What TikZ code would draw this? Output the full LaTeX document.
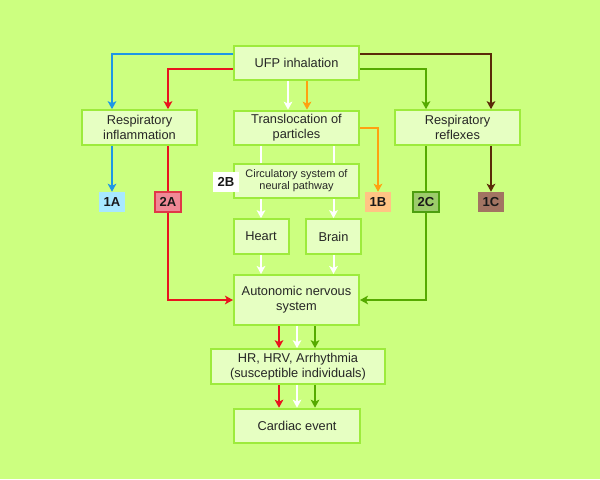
\documentclass[tikz,border=0pt]{standalone}
\usepackage{fontspec}
\setmainfont{Liberation Sans}
\usetikzlibrary{arrows.meta}
\definecolor{bggreen}{HTML}{CCFF80}
\definecolor{boxfill}{HTML}{E6FFC2}
\definecolor{boxline}{HTML}{9DEB3C}
\definecolor{ablue}{HTML}{1E96E6}
\definecolor{ared}{HTML}{E8141E}
\definecolor{aorange}{HTML}{FFA010}
\definecolor{agreen}{HTML}{55AA00}
\definecolor{abrown}{HTML}{5A2A08}
\definecolor{fillA}{HTML}{A8E8FF}
\definecolor{fillAA}{HTML}{F08896}
\definecolor{lineAA}{HTML}{E03848}
\definecolor{fillB}{HTML}{FFC484}
\definecolor{fillCC}{HTML}{9CCC6A}
\definecolor{lineCC}{HTML}{4C9E10}
\definecolor{fillC}{HTML}{A27462}
\begin{document}
\begin{tikzpicture}[x=0.75pt,y=-0.75pt,>={Stealth[length=6pt,width=6.5pt,inset=1.5pt]}]
        \tikzstyle{box}=[rectangle,draw=boxline,line width=1.5pt,fill=boxfill,minimum width=93.75pt,minimum height=26pt,inner sep=1pt,align=center,text=black!85,font=\fontsize{9.6pt}{11pt}\selectfont]
        \tikzstyle{tag}=[rectangle,minimum width=19.5pt,minimum height=15pt,inner sep=0pt,text=black!90,font=\fontsize{9.8pt}{10pt}\selectfont\bfseries]
        \tikzstyle{conn}=[line width=1.5pt]
       \fill[bggreen] (0,0) rectangle (600,479);
       \useasboundingbox (0,0) rectangle (600,479);
       % boxes
       \node [box] (ufp) at (296.5,63) {UFP inhalation};
       \node [box,minimum width=86.25pt] (infl) at (139.5,127.5) {Respiratory\\inflammation};
       \node [box] (trans) at (296.5,128) {Translocation of\\particles};
       \node [box] (refl) at (457.5,127.5) {Respiratory\\reflexes};
       \node [box,font=\fontsize{8.2pt}{9pt}\selectfont] (circ) at (296.5,181) {Circulatory system of\\neural pathway};
       \node [box,minimum width=41.25pt] (heart) at (261,236.5) {Heart};
       \node [box,minimum width=41.25pt] (brain) at (333.5,236.5) {Brain};
       \node [box,minimum height=37.5pt] (ans) at (296.5,300) {Autonomic nervous\\system};
       \node [box,minimum width=130.5pt] (hr) at (298,366.5) {HR, HRV, Arrhythmia\\(susceptible individuals)};
       \node [box,minimum width=94.5pt] (card) at (297,426) {Cardiac event};
       % tags
       \node [tag,fill=white] (t2B) at (226,182) {2B};
       \node [tag,fill=fillA] (t1A) at (112,202) {1A};
       \node [tag,fill=fillAA,draw=lineAA,line width=1.2pt] (t2A) at (168,202) {2A};
       \node [tag,fill=fillB] (t1B) at (378,202) {1B};
       \node [tag,fill=fillCC,draw=lineCC,line width=1.2pt] (t2C) at (426,202) {2C};
       \node [tag,fill=fillC] (t1C) at (491,202) {1C};
       % connectors from inhalation
       \draw[conn,ablue,->] (ufp.west |- 0,54) -| (infl.north -| t1A);
       \draw[conn,ared,->] (ufp.west |- 0,69) -| (infl.north -| t2A);
       \draw[conn,white,->] (ufp.south -| 288,0) -- (trans.north -| 288,0);
       \draw[conn,aorange,->] (ufp.south -| 307,0) -- (trans.north -| 307,0);
       \draw[conn,agreen,->] (ufp.east |- 0,69) -| (refl.north -| t2C);
       \draw[conn,abrown,->] (ufp.east |- 0,54) -| (refl.north -| t1C);
       % pathways
       \draw[conn,ablue,->] (infl.south -| t1A) -- (t1A.north);
       \draw[conn,ared] (infl.south -| t2A) -- (t2A.north);
       \draw[conn,ared,->] (t2A.south) |- (ans.west);
       \draw[conn,aorange,->] (trans.east) -| (t1B.north);
       \draw[conn,agreen] (refl.south -| t2C) -- (t2C.north);
       \draw[conn,agreen,->] (t2C.south) |- (ans.east);
       \draw[conn,abrown,->] (refl.south -| t1C) -- (t1C.north);
       \draw[conn,white] (trans.south -| heart) -- (circ.north -| heart);
       \draw[conn,white] (trans.south -| brain) -- (circ.north -| brain);
       \draw[conn,white,->] (circ.south -| heart) -- (heart.north);
       \draw[conn,white,->] (circ.south -| brain) -- (brain.north);
       \draw[conn,white,->] (heart.south) -- (ans.north -| heart);
       \draw[conn,white,->] (brain.south) -- (ans.north -| brain);
       \draw[conn,ared,->] (ans.south -| 279,0) -- (hr.north -| 279,0);
       \draw[conn,white,->] (ans.south -| 297,0) -- (hr.north -| 297,0);
       \draw[conn,agreen,->] (ans.south -| 315,0) -- (hr.north -| 315,0);
       \draw[conn,ared,->] (hr.south -| 279,0) -- (card.north -| 279,0);
       \draw[conn,white,->] (hr.south -| 297,0) -- (card.north -| 297,0);
       \draw[conn,agreen,->] (hr.south -| 315,0) -- (card.north -| 315,0);
      \end{tikzpicture}
\end{document}
